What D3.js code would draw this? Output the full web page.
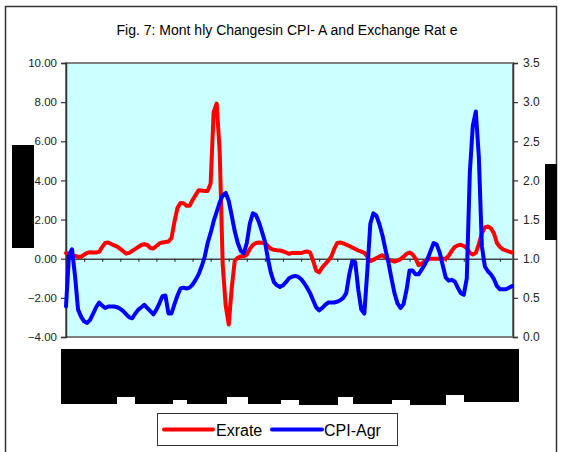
<!DOCTYPE html>
<html>
<head>
<meta charset="utf-8">
<script src="https://cdn.jsdelivr.net/npm/d3@7"></script>
<style>
  body { margin: 0; background: #fff; }
  text { font-family: Arial, "Liberation Sans", sans-serif; }
</style>
</head>
<body>
<div id="chart"></div>
<script>
// chart data
var title = "Fig. 7: Mont hly Changesin CPI- A and Exchange Rat e";
var seriesNames = ["Exrate", "CPI-Agr"];
var leftTicks = [-4, -2, 0, 2, 4, 6, 8, 10];
var rightTicks = [0, 0.5, 1, 1.5, 2, 2.5, 3, 3.5];

// monthly change in exchange rate (left axis)
var exrate = [
  0.29, 0.25, 0.2, 0.15, 0.1, 0.1, 0.2, 0.3, 0.33, 0.32,
  0.32, 0.35, 0.6, 0.8, 0.83, 0.75, 0.68, 0.62, 0.5, 0.38,
  0.26, 0.3, 0.4, 0.5, 0.6, 0.7, 0.74, 0.7, 0.55, 0.52,
  0.65, 0.78, 0.83, 0.85, 0.88, 1.05, 1.9, 2.6, 2.85, 2.84,
  2.7, 2.7, 3.0, 3.25, 3.5, 3.48, 3.46, 3.46, 3.85, 7.5,
  7.93, 5.5, -0.3, -2.4, -3.36, -1.5, -0.1, 0.05, 0.12, 0.12,
  0.2, 0.5, 0.7, 0.8, 0.83, 0.82, 0.8, 0.65, 0.5, 0.46,
  0.43, 0.42, 0.38, 0.32, 0.25, 0.29, 0.29, 0.29, 0.29, 0.34,
  0.37, 0.32, -0.1, -0.6, -0.7, -0.45, -0.28, -0.1, 0.1, 0.5,
  0.8, 0.83, 0.78, 0.72, 0.65, 0.57, 0.5, 0.42, 0.36, 0.3,
  0.1, -0.12, -0.05, 0.03, 0.12, 0.18, 0.05, -0.05, -0.1, -0.15,
  -0.1, -0.02, 0.1, 0.25, 0.32, 0.22, 0.0, -0.33, -0.25, -0.14,
  -0.05, 0, 0, 0, 0, 0, 0, 0.15, 0.4, 0.6,
  0.68, 0.71, 0.65, 0.54, 0.3, 0.22, 0.3, 0.75, 1.3, 1.6,
  1.65, 1.55, 1.3, 0.8, 0.6, 0.48, 0.42, 0.36, 0.32
];

// CPI-A (agricultural labourers), right axis
var cpiAgr = [
  0.39, 1.05, 1.12, 0.78, 0.35, 0.26, 0.2, 0.18, 0.22, 0.3,
  0.38, 0.44, 0.4, 0.37, 0.39, 0.39, 0.39, 0.38, 0.36, 0.33,
  0.29, 0.25, 0.24, 0.3, 0.35, 0.38, 0.41, 0.37, 0.33, 0.29,
  0.35, 0.43, 0.52, 0.53, 0.3, 0.3, 0.42, 0.53, 0.62, 0.63,
  0.62, 0.63, 0.67, 0.73, 0.8, 0.9, 1.02, 1.2, 1.33, 1.48,
  1.6, 1.72, 1.81, 1.84, 1.74, 1.55, 1.35, 1.2, 1.1, 1.07,
  1.2, 1.45, 1.58, 1.56, 1.47, 1.35, 1.22, 1.0, 0.82, 0.7,
  0.66, 0.64, 0.66, 0.7, 0.75, 0.77, 0.78, 0.77, 0.74, 0.69,
  0.63, 0.56, 0.47, 0.38, 0.34, 0.37, 0.41, 0.44, 0.44, 0.44,
  0.45, 0.47, 0.5, 0.56, 0.8, 0.97, 0.95, 0.6, 0.35, 0.3,
  0.85, 1.45, 1.58, 1.55, 1.44, 1.3, 1.12, 0.95, 0.75, 0.56,
  0.43, 0.37, 0.42, 0.6, 0.85, 0.85, 0.8, 0.8, 0.86, 0.92,
  1.0, 1.1, 1.2, 1.18, 1.08, 0.92, 0.76, 0.72, 0.73, 0.71,
  0.63, 0.56, 0.54, 0.75, 2.1, 2.7, 2.88, 2.3, 1.16, 0.9,
  0.84, 0.8, 0.74, 0.65, 0.61, 0.61, 0.61, 0.63, 0.65
];

var W = 563, H = 452;
var plot = {left: 66, right: 513, top: 63, bottom: 337};

var svg = d3.select("#chart").append("svg")
  .attr("width", W).attr("height", H);

// outer frame
svg.append("rect")
  .attr("x", 5.5).attr("y", 6.5).attr("width", 551).attr("height", 460)
  .attr("fill", "#fff").attr("stroke", "#333").attr("stroke-width", 1.5);

svg.append("text")
  .attr("x", 287).attr("y", 35)
  .attr("text-anchor", "middle")
  .attr("font-size", 14)
  .text(title);

// plot area
svg.append("rect")
  .attr("x", plot.left).attr("y", plot.top)
  .attr("width", plot.right - plot.left).attr("height", plot.bottom - plot.top)
  .attr("fill", "#ccffff").attr("stroke", "#808080").attr("stroke-width", 2);

var x = d3.scaleLinear().domain([0, exrate.length - 1]).range([plot.left, plot.right - 1]);
var yL = d3.scaleLinear().domain([-4, 10]).range([plot.bottom, plot.top]);
var yR = d3.scaleLinear().domain([0, 3.5]).range([plot.bottom, plot.top]);

var leftAxis = svg.append("g")
  .attr("transform", "translate(" + plot.left + ",0)")
  .call(d3.axisLeft(yL).tickValues(leftTicks).tickFormat(d3.format(".2f")).tickSize(5).tickPadding(4));

var rightAxis = svg.append("g")
  .attr("transform", "translate(" + plot.right + ",0)")
  .call(d3.axisRight(yR).tickValues(rightTicks).tickFormat(d3.format(".1f")).tickSize(5).tickPadding(5));

[leftAxis, rightAxis].forEach(function (g) {
  g.select(".domain").attr("stroke", "#333").attr("stroke-width", 1.5);
  g.selectAll(".tick line").attr("stroke", "#333").attr("stroke-width", 1.2);
  g.selectAll("text").attr("font-size", 12).attr("fill", "#222")
    .attr("font-family", "Arial, 'Liberation Sans', sans-serif");
});
leftAxis.selectAll("text").attr("font-size", 11.5);

// category axis sits on the zero line
var xAxis = svg.append("g")
  .attr("transform", "translate(0," + yL(0) + ")")
  .call(d3.axisBottom(x).tickValues(d3.range(0, exrate.length, 6)).tickFormat("").tickSizeInner(3).tickSizeOuter(0));
xAxis.select(".domain").attr("stroke", "#444").attr("stroke-width", 1.5);
xAxis.selectAll(".tick line").attr("stroke", "#333").attr("stroke-width", 1.2);

var lineL = d3.line().x(function (d, i) { return x(i); }).y(function (d) { return yL(d); });
var lineR = d3.line().x(function (d, i) { return x(i); }).y(function (d) { return yR(d); });

svg.append("path").datum(exrate)
  .attr("d", lineL).attr("fill", "none")
  .attr("stroke", "#ff0000").attr("stroke-width", 4)
  .attr("stroke-linejoin", "round").attr("stroke-linecap", "round");

svg.append("path").datum(cpiAgr)
  .attr("d", lineR).attr("fill", "none")
  .attr("stroke", "#0000ff").attr("stroke-width", 4)
  .attr("stroke-linejoin", "round").attr("stroke-linecap", "round");

// blacked-out areas of the original (axis titles, date labels)
svg.append("rect").attr("x", 12).attr("y", 145).attr("width", 22).attr("height", 103).attr("fill", "#000");
svg.append("rect").attr("x", 545).attr("y", 164).attr("width", 12).attr("height", 76).attr("fill", "#000");

var bottomBlock = [
  [61, 117, 404], [117, 135, 397], [135, 173, 404], [173, 187, 400],
  [187, 227, 404], [227, 248, 397], [248, 281, 404], [281, 299, 400],
  [299, 338, 405], [338, 353, 397], [353, 392, 404], [392, 410, 400],
  [410, 446, 405], [446, 464, 395], [464, 519, 402]
];
svg.selectAll("rect.blk").data(bottomBlock).enter().append("rect")
  .attr("class", "blk")
  .attr("x", function (d) { return d[0]; })
  .attr("y", 349)
  .attr("width", function (d) { return d[1] - d[0]; })
  .attr("height", function (d) { return d[2] - 349; })
  .attr("fill", "#000");

// legend
var legend = svg.append("g");
legend.append("rect")
  .attr("x", 157.5).attr("y", 413.5).attr("width", 240).attr("height", 32)
  .attr("fill", "#fff").attr("stroke", "#333").attr("stroke-width", 1);
var legendItems = [
  {name: seriesNames[0], color: "#ff0000", x0: 164, x1: 213, tx: 216},
  {name: seriesNames[1], color: "#0000ff", x0: 272, x1: 322, tx: 324}
];
legendItems.forEach(function (it) {
  legend.append("line")
    .attr("x1", it.x0).attr("x2", it.x1).attr("y1", 429.5).attr("y2", 429.5)
    .attr("stroke", it.color).attr("stroke-width", 4).attr("stroke-linecap", "round");
  legend.append("text")
    .attr("x", it.tx).attr("y", 435.5)
    .attr("font-size", 16)
    .text(it.name);
});
</script>
</body>
</html>
